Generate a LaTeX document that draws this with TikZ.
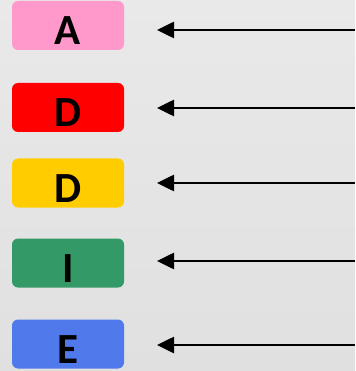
\documentclass[tikz,border=0pt]{standalone}
\usepackage{fontspec}
\setmainfont{Carlito}
\usepackage{xcolor}
\usepackage{tikz}
\usetikzlibrary{arrows.meta}

\definecolor{bgtop}{HTML}{E9E9E9}
\definecolor{bgmid}{HTML}{F2F2F2}
\definecolor{bgbot}{HTML}{E0E0E0}
\definecolor{pinkbox}{HTML}{FF99CC}
\definecolor{redbox}{HTML}{FF0000}
\definecolor{yellowbox}{HTML}{FFCC00}
\definecolor{greenbox}{HTML}{339966}
\definecolor{bluebox}{HTML}{5079EB}

\begin{document}
\begin{tikzpicture}[x=1pt,y=-1pt,>={Triangle[length=17pt,width=16pt]},
    letter/.style={rounded corners=6pt, minimum width=112pt, minimum height=49pt,
      inner sep=0pt, text height=38pt, text depth=0pt,
      font=\fontsize{43}{43}\selectfont\bfseries},
    pointer/.style={<-, line width=2.6pt}]
      \useasboundingbox (0,0) rectangle (355,371);
      \shade[top color=bgtop, middle color=bgmid, bottom color=bgbot] (0,0) rectangle (355,371);

      \node[letter, fill=pinkbox] (a) at (68,25.5) {A};
      \node[letter, fill=redbox] (d1) at (68,107.5) {D};
      \node[letter, fill=yellowbox] (d2) at (68,183) {D};
      \node[letter, fill=greenbox] (i) at (68,263) {I};
      \node[letter, fill=bluebox] (e) at (68,344) {E};

      \coordinate (ta) at (157,30);   \coordinate (ra) at (355,30);
      \coordinate (td1) at (157,108); \coordinate (rd1) at (355,108);
      \coordinate (td2) at (157,183); \coordinate (rd2) at (355,183);
      \coordinate (ti) at (157,261);  \coordinate (ri) at (355,261);
      \coordinate (te) at (157,345);  \coordinate (re) at (355,345);

      \path (ta) edge [pointer] (ra)
            (td1) edge [pointer] (rd1)
            (td2) edge [pointer] (rd2)
            (ti) edge [pointer] (ri)
            (te) edge [pointer] (re)
            ;
    \end{tikzpicture}
\end{document}
